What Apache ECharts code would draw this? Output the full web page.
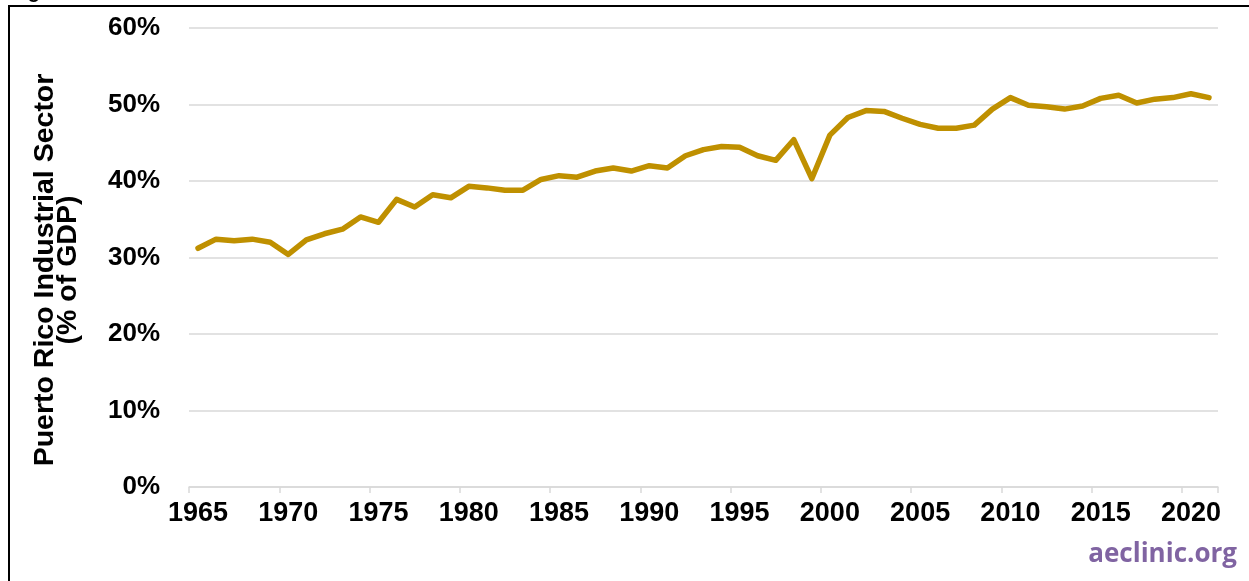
<!DOCTYPE html>
<html>
<head>
<meta charset="utf-8">
<script src="https://cdn.jsdelivr.net/npm/echarts@6/dist/echarts.min.js"></script>
<style>
html,body{margin:0;padding:0;background:#fff;}
#chart{width:1249px;height:581px;}
</style>
</head>
<body>
<div id="chart"></div>
<script>
const years = ['1965','1966','1967','1968','1969','1970','1971','1972','1973','1974',
  '1975','1976','1977','1978','1979','1980','1981','1982','1983','1984',
  '1985','1986','1987','1988','1989','1990','1991','1992','1993','1994',
  '1995','1996','1997','1998','1999','2000','2001','2002','2003','2004',
  '2005','2006','2007','2008','2009','2010','2011','2012','2013','2014',
  '2015','2016','2017','2018','2019','2020','2021'];
const industrialShare = [31.2,32.4,32.2,32.4,32.0,30.4,32.3,33.1,33.7,35.3,
  34.6,37.6,36.6,38.2,37.8,39.3,39.1,38.8,38.8,40.2,
  40.7,40.5,41.3,41.7,41.3,42.0,41.7,43.3,44.1,44.5,
  44.4,43.3,42.7,45.4,40.3,46.0,48.3,49.2,49.1,48.2,
  47.4,46.9,46.9,47.3,49.4,50.9,49.9,49.7,49.4,49.8,
  50.8,51.2,50.2,50.7,50.9,51.4,50.9];
const yAxisTitle = 'Puerto Rico Industrial Sector\n(% of GDP)';
const watermark = 'aeclinic.org';
const figTitle = 'Figure';

const FONT = '"Liberation Sans", Arial, sans-serif';
const chart = echarts.init(document.getElementById('chart'), null, {renderer:'canvas'});
chart.setOption({
  animation: false,
  backgroundColor: '#ffffff',
  grid: {left: 189, right: 31, top: 28, bottom: 94, containLabel: false},
  xAxis: {
    type: 'category',
    data: years,
    boundaryGap: true,
    axisLine: {show: true, lineStyle: {color: '#d9d9d9', width: 1.5}},
    axisTick: {show: true, interval: 4, length: 6, lineStyle: {color: '#d9d9d9', width: 1.5}},
    axisLabel: {interval: 4, margin: 13, color: '#000', fontSize: 27, fontWeight: 'bold', fontFamily: FONT},
    splitLine: {show: false}
  },
  yAxis: {
    type: 'value',
    min: 0, max: 60, interval: 10,
    axisLine: {show: false},
    axisTick: {show: false},
    axisLabel: {formatter: '{value}%', margin: 29, color: '#000', fontSize: 26, fontWeight: 'bold', fontFamily: FONT},
    splitLine: {show: true, lineStyle: {color: '#d9d9d9', width: 1.5}}
  },
  series: [{
    type: 'line',
    data: industrialShare,
    symbol: 'none',
    smooth: false,
    lineStyle: {color: '#bf9000', width: 5.5, join: 'round', cap: 'round'},
    z: 5
  }],
  graphic: [
    {
      type: 'rect',
      shape: {x: 9, y: 6, width: 1300, height: 700},
      style: {fill: 'none', stroke: '#000', lineWidth: 2},
      silent: true, z: 100
    },
    {
      type: 'text',
      x: 10, y: -18,
      style: {text: figTitle, fontSize: 20, fontWeight: 'bold', fontFamily: FONT, fill: '#000', textAlign: 'left', textVerticalAlign: 'top'},
      silent: true
    },
    {
      type: 'text',
      x: 57, y: 270,
      rotation: Math.PI / 2,
      style: {text: yAxisTitle, fontSize: 28.5, lineHeight: 23, fontWeight: 'bold', fontFamily: FONT, fill: '#000', textAlign: 'center', textVerticalAlign: 'middle'},
      silent: true
    },
    {
      type: 'text',
      right: 12, top: 542,
      style: {text: watermark, fontSize: 26, fontWeight: 'bold', fontFamily: '"Open Sans", "Liberation Sans", sans-serif', fill: '#8064a2'},
      silent: true
    }
  ]
});
</script>
</body>
</html>
